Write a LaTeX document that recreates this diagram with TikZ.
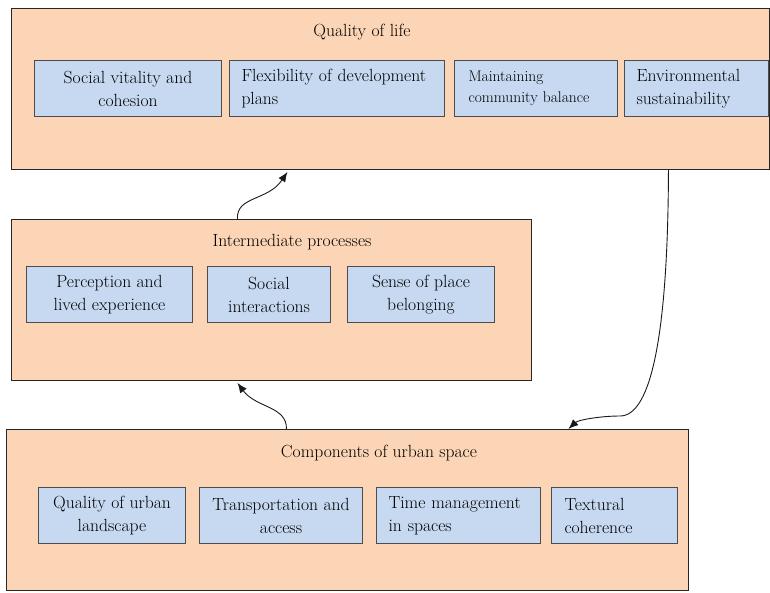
\documentclass[tikz,border=0pt]{standalone}
\usepackage{fontspec}
\usetikzlibrary{arrows.meta,calc}
\definecolor{panelpeach}{RGB}{251,213,181}
\definecolor{itemblue}{RGB}{198,217,241}
\begin{document}
\begin{tikzpicture}[x=1pt, y=-1pt]
    \tikzset{
      panel/.style={draw=black!85, fill=panelpeach, line width=0.9pt, anchor=north west, inner sep=0pt},
      title/.style={font=\fontsize{17.6}{20}\selectfont},
      item/.style={draw=black!70, fill=itemblue, line width=1pt, anchor=north west,
        minimum height=56pt, inner ysep=0pt, inner xsep=6pt, align=center,
        font=\fontsize{17.6}{23}\selectfont},
      litem/.style={item, align=left, inner xsep=12pt},
      flow/.style={draw=black!90, line width=0.9pt, -{Latex[length=10pt,width=8pt]}},
    }
    \useasboundingbox (0,0) rectangle (770,592);
    % ===== three panels =====
    \node[panel, minimum width=758pt, minimum height=161pt] (life) at (11,8) {};
    \node[panel, minimum width=520pt, minimum height=161pt] (inter) at (11,219) {};
    \node[panel, minimum width=682pt, minimum height=161pt] (comp) at (6,429) {};
    % ===== Quality of life =====
    \node[title] (lifetitle) at (362,32) {Quality of life};
    \node[item, minimum width=187pt] (vital) at (34,60) {Social vitality and\\cohesion};
    \node[litem, text width=191pt] (flex) at (229,60) {Flexibility of development\\plans};
    \node[litem, text width=135pt, inner xsep=14pt, font=\fontsize{15.5}{21}\selectfont] (balance) at (454,60) {Maintaining\\community balance};
    \node[litem, text width=120pt] (envir) at (624,60) {Environmental\\sustainability};
    % ===== Intermediate processes =====
    \node[title] (intertitle) at (292,242) {Intermediate processes};
    \node[item, minimum width=166pt] (percep) at (26,266) {Perception and\\lived experience};
    \node[item, minimum width=123pt] (social) at (207,266) {Social\\interactions};
    \node[item, minimum width=147pt] (sense) at (347,266) {Sense of place\\belonging};
    % ===== Components of urban space =====
    \node[title] (comptitle) at (379,453) {Components of urban space};
    \node[item, minimum width=147pt] (landsc) at (38,487) {Quality of urban\\landscape};
    \node[item, minimum width=163pt] (transp) at (199,487) {Transportation and\\access};
    \node[litem, text width=140pt] (timem) at (376,487) {Time management\\in spaces};
    \node[litem, text width=100pt, inner xsep=13pt] (textur) at (551,487) {Textural\\coherence};
    % ===== arrows =====
    \draw[flow] ($(comp.north)+(-61,0)$) .. controls (287,406) and (256,408) .. ($(inter.south)+(-34,2)$);
    \draw[flow] ($(inter.north)+(-34,0)$) .. controls (236,196) and (268,201) .. ($(life.south)+(-103,2)$);
    \draw[flow] ($(life.south)+(278,0)$) .. controls (668,330) and (652,416) .. (620,416)
      .. controls (600,416) and (578,420) .. ($(comp.north)+(221,0)$);
\end{tikzpicture}
\end{document}
